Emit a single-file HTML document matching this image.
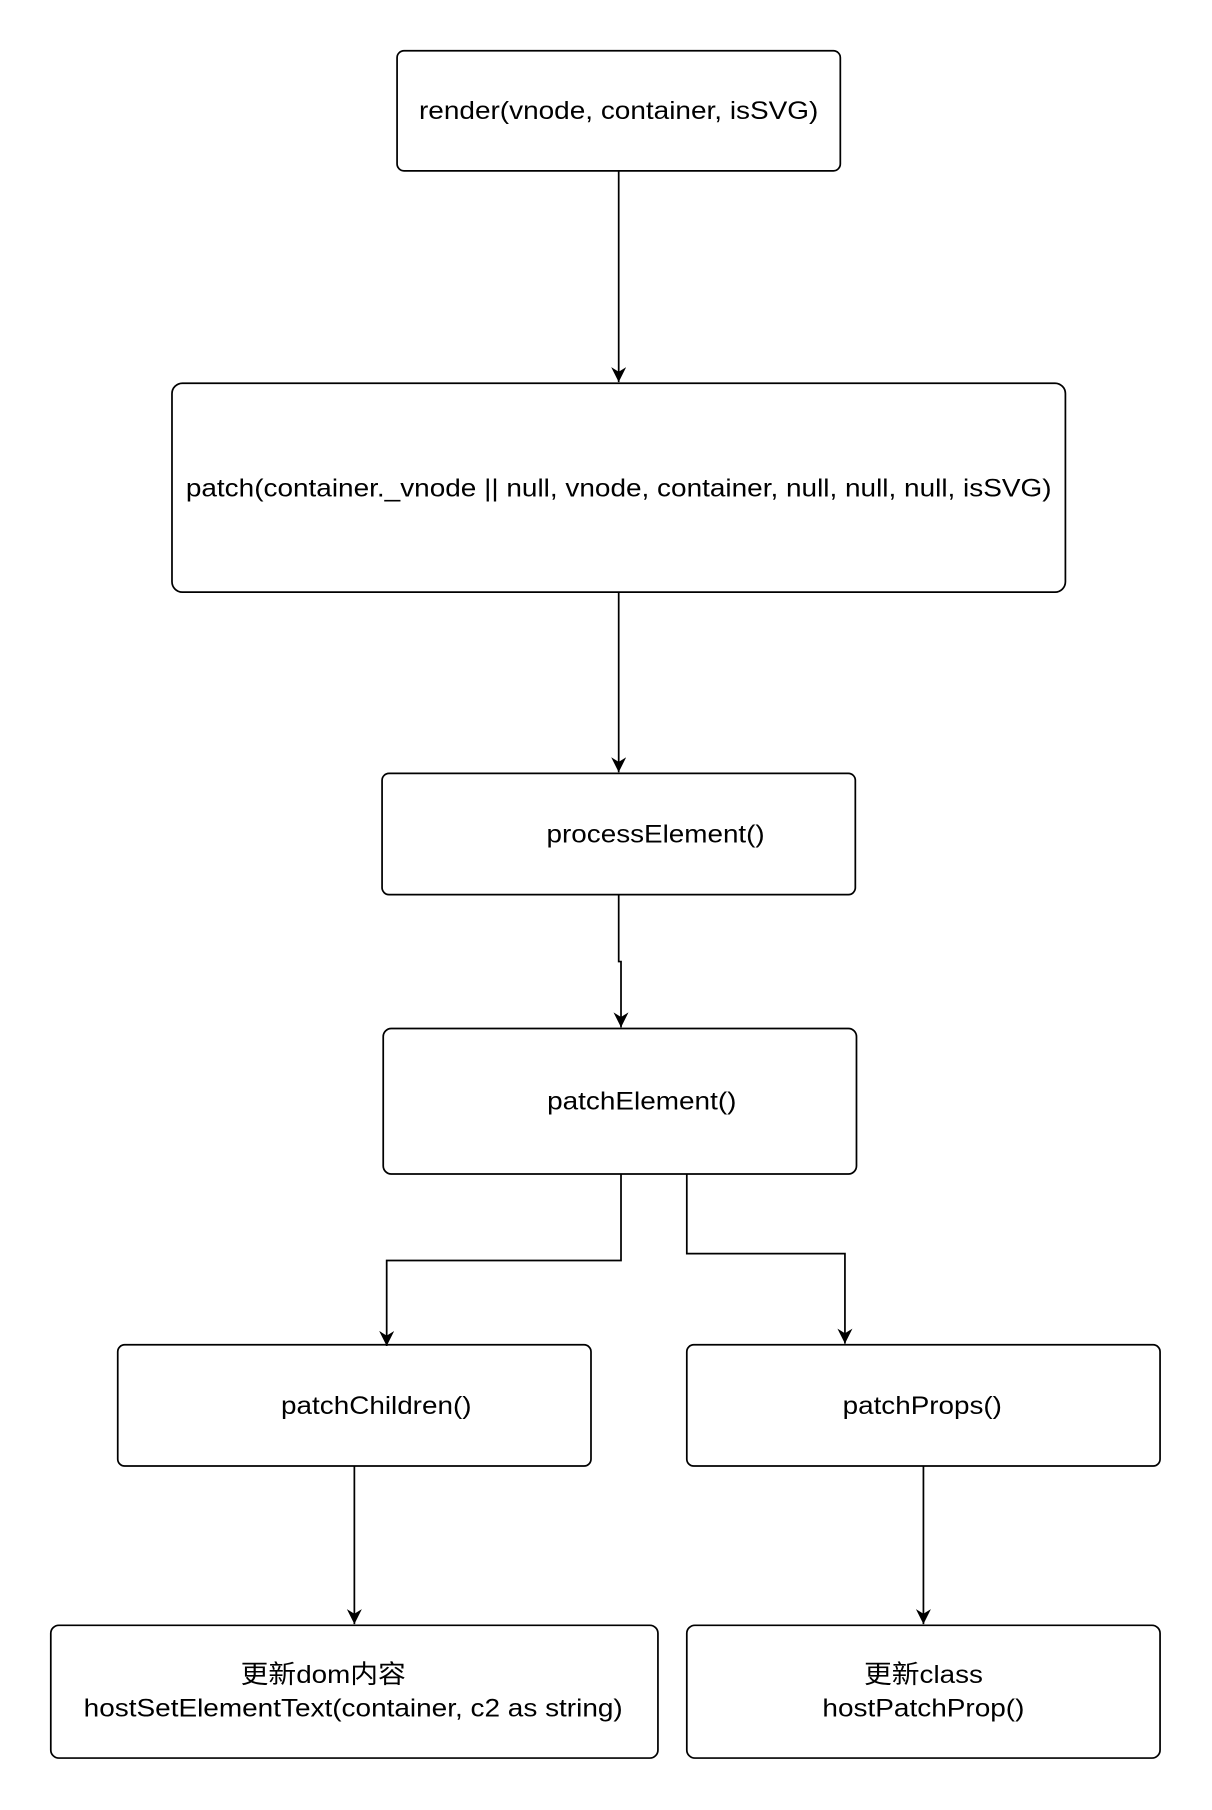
<!DOCTYPE html>
<html><head><meta charset="utf-8"><style>html,body{margin:0;padding:0;background:#fff}svg{display:block}</style></head>
<body>
<svg width="1212" height="1810" viewBox="0 0 1050 1568" preserveAspectRatio="none" xmlns="http://www.w3.org/2000/svg" font-family="'Liberation Sans','Noto Sans CJK SC',sans-serif" font-size="22" fill="#000">
<defs><marker id="a" markerWidth="14" markerHeight="14" refX="13" refY="6.5" orient="auto" markerUnits="userSpaceOnUse"><path d="M0,0 L13,6.5 L0,13 L4,6.5 z" fill="#000"/></marker></defs>
<g fill="#fff" stroke="#000" stroke-width="1.5">
<rect x="344" y="44" width="384" height="104" rx="6"/>
<rect x="149" y="332" width="774" height="181" rx="9"/>
<rect x="331" y="670" width="410" height="105" rx="6"/>
<rect x="332" y="891" width="410" height="126" rx="7"/>
<rect x="102" y="1165" width="410" height="105" rx="6"/>
<rect x="595" y="1165" width="410" height="105" rx="6"/>
<rect x="44" y="1408" width="526" height="115" rx="7"/>
<rect x="595" y="1408" width="410" height="115" rx="7"/>
</g>
<g fill="none" stroke="#000" stroke-width="1.5" marker-end="url(#a)">
<path d="M536,148 V331"/>
<path d="M536,513 V669"/>
<path d="M536,775 V833 H538 V890"/>
<path d="M538,1017 V1092 H335 V1166"/>
<path d="M595,1017 V1086 H732 V1164"/>
<path d="M307,1270 V1407"/>
<path d="M800,1270 V1407"/>
</g>
<g text-anchor="middle">
<text x="536" y="103" textLength="346" lengthAdjust="spacingAndGlyphs">render(vnode, container, isSVG)</text>
<text x="536" y="430" textLength="750" lengthAdjust="spacingAndGlyphs">patch(container._vnode || null, vnode, container, null, null, null, isSVG)</text>
<text x="568" y="730" textLength="189" lengthAdjust="spacingAndGlyphs">processElement()</text>
<text x="556" y="961" textLength="164" lengthAdjust="spacingAndGlyphs">patchElement()</text>
<text x="326" y="1225" textLength="165" lengthAdjust="spacingAndGlyphs">patchChildren()</text>
<text x="799" y="1225" textLength="138" lengthAdjust="spacingAndGlyphs">patchProps()</text>
<text x="280" y="1458" textLength="143" lengthAdjust="spacingAndGlyphs">更新dom内容</text>
<text x="306" y="1487" textLength="467" lengthAdjust="spacingAndGlyphs">hostSetElementText(container, c2 as string)</text>
<text x="800" y="1458" textLength="103" lengthAdjust="spacingAndGlyphs">更新class</text>
<text x="800" y="1487" textLength="175" lengthAdjust="spacingAndGlyphs">hostPatchProp()</text>
</g>
</svg>
</body></html>
